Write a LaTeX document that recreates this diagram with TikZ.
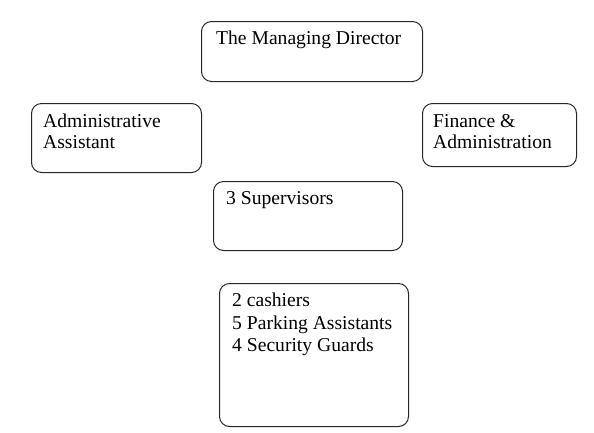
\documentclass[tikz,border=0pt]{standalone}
\usepackage{fontspec}
\setmainfont{Liberation Serif}
\begin{document}
\begin{tikzpicture}[x=1pt,y=-1pt,
  box/.style={draw=black!85,line width=1pt,rounded corners=10pt,inner sep=0pt,anchor=north west},
  txt/.style={inner sep=0pt,anchor=base west,align=left,font=\fontsize{19.6}{22.3}\selectfont}]
\useasboundingbox (0,0) rectangle (594,432);
\node[box,minimum width=221pt,minimum height=60pt] (md) at (201,21) {};
\node[txt] (mdt) at (216,44.3) {The Managing Director};
\node[box,minimum width=170pt,minimum height=69pt] (aa) at (31,103) {};
\node[txt,font=\fontsize{19.6}{21}\selectfont] (aat) at (43,148) {Administrative\\Assistant};
\node[box,minimum width=154pt,minimum height=63pt] (fa) at (422,103) {};
\node[txt,font=\fontsize{19.6}{21}\selectfont] (fat) at (433,148) {Finance \&\\Administration};
\node[box,minimum width=189pt,minimum height=69pt] (sv) at (213,181) {};
\node[txt] (svt) at (226,204.3) {3 Supervisors};
\node[box,minimum width=189pt,minimum height=143pt] (st) at (219,283) {};
\node[txt] (stt) at (232,351.5) {2 cashiers\\5 Parking Assistants\\4 Security Guards};
\end{tikzpicture}
\end{document}
